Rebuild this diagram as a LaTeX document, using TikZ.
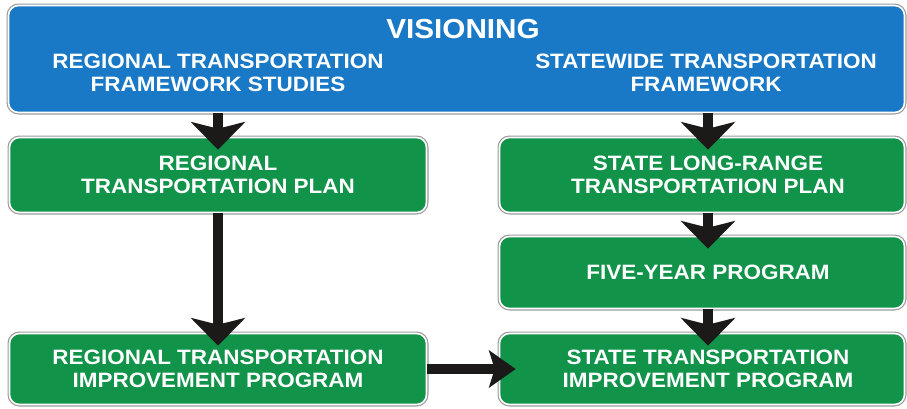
\documentclass[tikz,border=0pt]{standalone}
\usepackage{fontspec}
\setmainfont[FakeStretch=1.08]{Liberation Sans}
\usetikzlibrary{arrows.meta}
\definecolor{signblue}{HTML}{1A79C6}
\definecolor{signgreen}{HTML}{12934A}
\definecolor{signrim}{HTML}{9A9A9A}
\definecolor{arrowblack}{HTML}{1C1A18}
\begin{document}
\begin{tikzpicture}[x=1pt,y=-1pt,
  sign/.style={rounded corners=10pt, draw=white, line width=1.6pt,
    preaction={draw=signrim, line width=4pt}, inner sep=0pt},
  bluesign/.style={sign, fill=signblue},
  greensign/.style={sign, fill=signgreen, text=white, align=center,
    font=\bfseries\fontsize{20.8}{23.5}\selectfont},
  signtext/.style={text=white, align=center, inner sep=0pt,
    font=\bfseries\fontsize{20.8}{23.5}\selectfont},
  bigtext/.style={text=white, inner sep=0pt,
    font=\bfseries\fontsize{27.5}{30}\selectfont},
  flow/.style={draw=arrowblack, line width=10pt,
    -{Stealth[line width=0pt, length=28pt, width=55pt, inset=7pt]}},
  flowh/.style={draw=arrowblack, line width=10pt,
    -{Stealth[line width=0pt, length=27pt, width=38pt, inset=6pt]}}]
\useasboundingbox (0,0) rectangle (907,408);
% boxes
\node[bluesign, minimum width=896pt, minimum height=107pt] (vis) at (456.5,59) {};
\node[bigtext] (vtitle) at (463,29) {VISIONING};
\node[signtext] (vleft) at (218,73) {REGIONAL TRANSPORTATION\\FRAMEWORK STUDIES};
\node[signtext] (vright) at (706,73) {STATEWIDE TRANSPORTATION\\FRAMEWORK};
\node[greensign, minimum width=417pt, minimum height=75pt] (rtp) at (218,175) {REGIONAL\\TRANSPORTATION PLAN};
\node[greensign, minimum width=405pt, minimum height=75pt] (lrtp) at (702,175) {};
\node[signtext] (lrtpt) at (708,175) {STATE LONG-RANGE\\TRANSPORTATION PLAN};
\node[greensign, minimum width=405pt, minimum height=72pt] (fyp) at (702,272.5) {};
\node[signtext] (fypt) at (708,272.5) {FIVE-YEAR PROGRAM};
\node[greensign, minimum width=417pt, minimum height=71pt] (rtip) at (218,369) {REGIONAL TRANSPORTATION\\IMPROVEMENT PROGRAM};
\node[greensign, minimum width=405pt, minimum height=71pt] (stip) at (702,369) {};
\node[signtext] (stipt) at (708,369) {STATE TRANSPORTATION\\IMPROVEMENT PROGRAM};
% connectors
\draw[flow, shorten >=-13pt] (vis.south -| rtp.north) -- (rtp.north);
\draw[flow, shorten >=-13pt] (rtp.south) -- (rtip.north);
\draw[flow, shorten >=-13pt] ([xshift=6pt]vis.south -| lrtp.north) -- ([xshift=6pt]lrtp.north);
\draw[flow, shorten >=-13pt] ([xshift=6pt]lrtp.south) -- ([xshift=6pt]fyp.north);
\draw[flow, shorten >=-13pt] ([xshift=6pt]fyp.south) -- ([xshift=6pt]stip.north);
\draw[flowh, shorten >=-17pt] (rtip.east) -- (stip.west);
\end{tikzpicture}
\end{document}
